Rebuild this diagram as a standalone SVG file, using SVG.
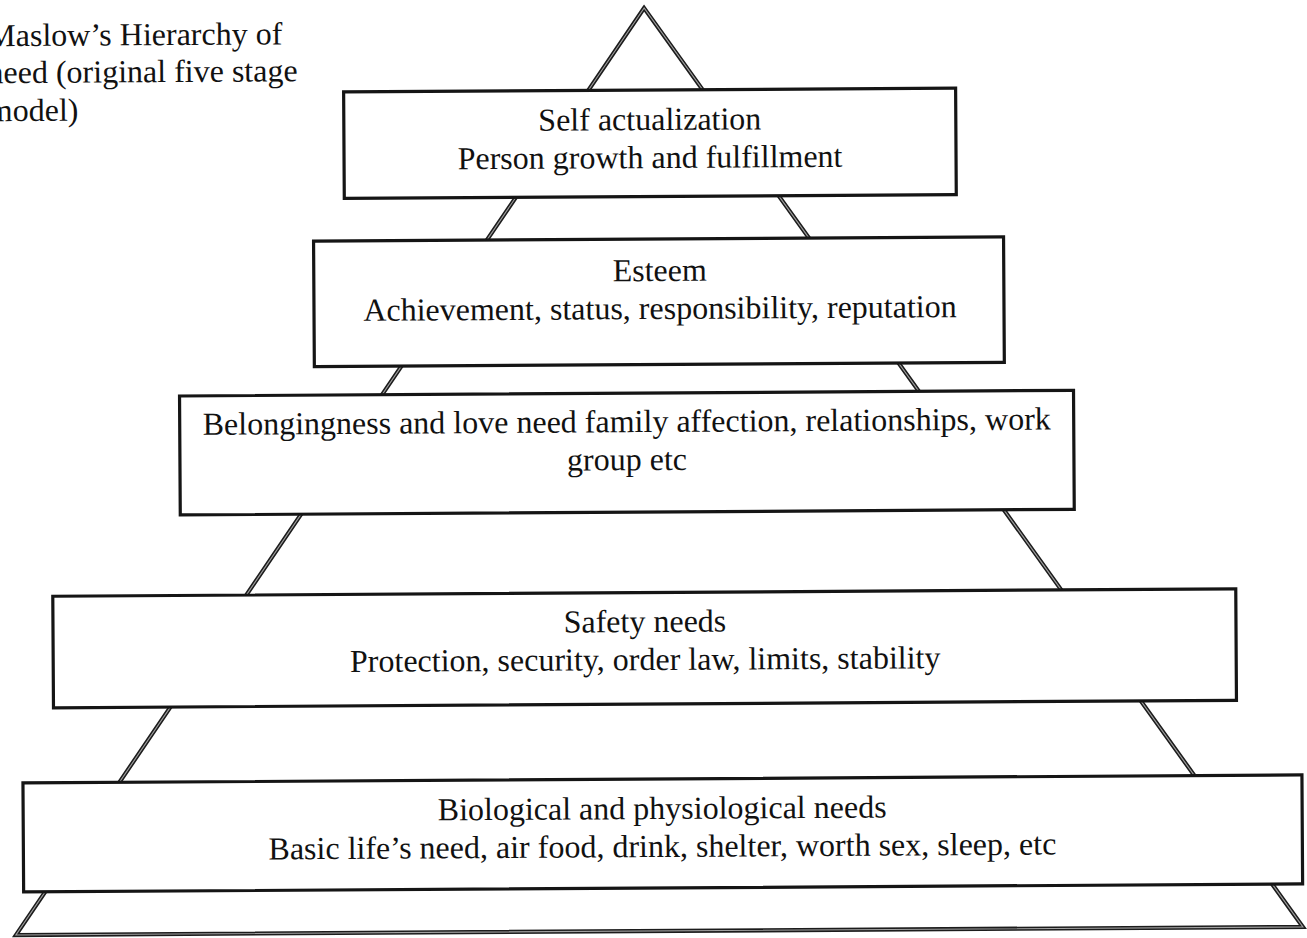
<svg xmlns="http://www.w3.org/2000/svg" width="1307" height="938" viewBox="0 0 1307 938">
<style>
.t{font-family:"Liberation Serif","Times New Roman",serif;font-size:32px;fill:#111;}
.c{text-anchor:middle;}
.box{fill:#fff;stroke:#151515;stroke-width:3.2;}
.tri{fill:#fff;stroke:#1c1c1c;stroke-width:4.2;stroke-linejoin:miter;}
.tri-in{fill:none;stroke:#a0a0a0;stroke-width:1.1;stroke-linejoin:miter;}
</style>
<rect width="1307" height="938" fill="#fff"/>
<g transform="rotate(-0.36 653 469)">
  <g id="title">
    <text class="t" x="-10" y="42">Maslow’s Hierarchy of</text>
    <text class="t" x="-10" y="79">need (original five stage</text>
    <text class="t" x="-10" y="117">model)</text>
  </g>
  <g id="pyramid">
    <polygon class="tri" points="647,8 13,931 1300,931"/>
    <polygon class="tri-in" points="647,8 13,931 1300,931"/>
  </g>
  <g id="self-actualization">
    <rect class="box" x="346" y="90" width="612" height="106.5"/>
    <text class="t c" x="652" y="130">Self actualization</text>
    <text class="t c" x="652" y="168">Person growth and fulfillment</text>
  </g>
  <g id="esteem">
    <rect class="box" x="315" y="239" width="690" height="125.5"/>
    <text class="t c" x="661" y="281">Esteem</text>
    <text class="t c" x="661" y="319">Achievement, status, responsibility, reputation</text>
  </g>
  <g id="belongingness">
    <rect class="box" x="180" y="393" width="894" height="119"/>
    <text class="t c" x="627" y="432">Belongingness and love need family affection, relationships, work</text>
    <text class="t c" x="627" y="470">group etc</text>
  </g>
  <g id="safety">
    <rect class="box" x="52" y="592.5" width="1183" height="111.5"/>
    <text class="t c" x="644" y="632">Safety needs</text>
    <text class="t c" x="644" y="670">Protection, security, order law, limits, stability</text>
  </g>
  <g id="biological">
    <rect class="box" x="21" y="779" width="1279" height="109"/>
    <text class="t c" x="660" y="819">Biological and physiological needs</text>
    <text class="t c" x="660" y="857">Basic life’s need, air food, drink, shelter, worth sex, sleep, etc</text>
  </g>
</g>
</svg>
